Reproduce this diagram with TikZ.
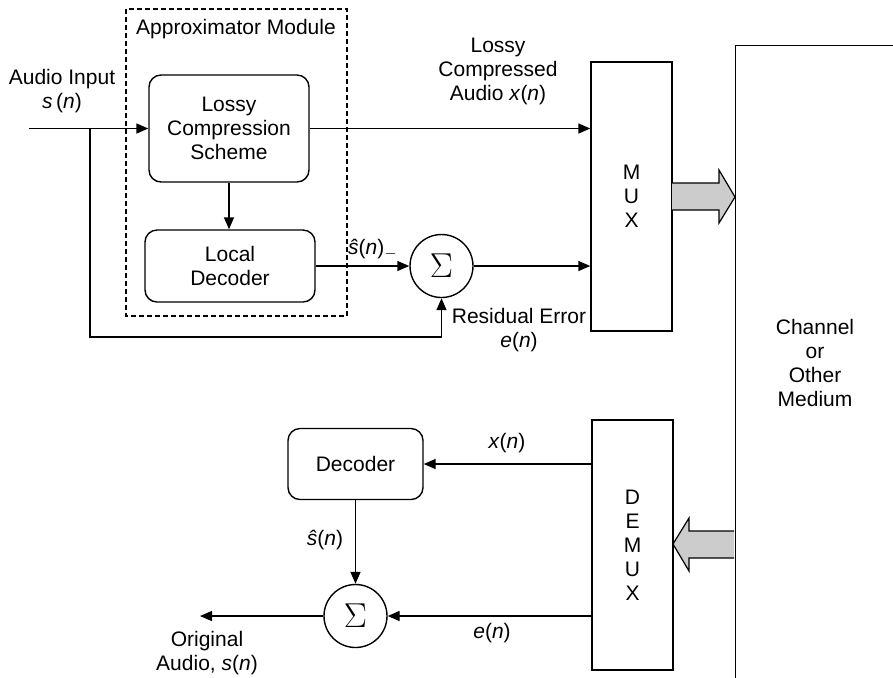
\documentclass[tikz,border=0pt]{standalone}
\usepackage{fontspec}
\setmainfont{Liberation Sans}
\usetikzlibrary{arrows.meta,positioning,calc}

\begin{document}
\begin{tikzpicture}[x=0.5pt,y=-0.5pt,>={Triangle[length=6pt,width=5pt]},line width=0.7pt,
  every node/.style={font=\fontsize{10.5}{12}\selectfont,align=center},
  box/.style={draw,rounded corners=6pt,inner sep=0pt},
  mux/.style={draw,minimum width=40.5pt,inner sep=0pt},
  sum/.style={draw,circle,minimum size=31.5pt,inner sep=0pt,font=\fontsize{18}{18}\selectfont},
  fat/.style={draw,line width=0.6pt,fill=gray!40,line join=miter}]
\useasboundingbox (0,0) rectangle (893,677);
% coder side
\node[box,minimum width=80pt,minimum height=53.5pt] (lcs) at (229,128.5) {Lossy\\Compression\\Scheme};
\node[box,minimum width=85pt,minimum height=36pt] (ldec) at (230,266) {Local\\Decoder};
\node[sum] (sum1) at (441.5,266) {$\Sigma$};
\node[mux,minimum height=134.5pt] (mux) at (631.5,196.5) {M\\U\\X};
\draw[dashed,dash pattern=on 2.5pt off 1.5pt,line width=0.6pt] (126,9) rectangle (347,316);
\node (amod) at (236,29) {Approximator Module};
\coordinate (in) at (29,128.5);
\coordinate (tap) at (90,128.5);
\coordinate (loop) at (90,337);
\node (ain) at (62,91) {Audio Input\\\textit{s}\,(\textit{n})};
\node (xlab) at (498,71) {Lossy\\Compressed\\Audio \textit{x}(\textit{n})};
\node (shat1) at (373,249) {\textit{ŝ}(\textit{n})$_-$};
\node (elab1) at (519,330) {Residual Error\\\textit{e}(\textit{n})};
\draw[->] (in) -- (lcs.west);
\draw[->] (lcs.south) -- (lcs.south |- ldec.north);
\draw[->] (lcs.east) -- (lcs.east -| mux.west);
\draw[->] (ldec) -- (sum1);
\draw[->] (sum1) -- (sum1 -| mux.west);
\draw[->] (tap) -- (loop) -| (sum1.south);
% channel
\begin{scope}
\clip (0,0) rectangle (893,677);
\node[draw,anchor=north west,minimum width=150pt,minimum height=330pt,inner sep=0pt] (chan) at (735,45) {};
\end{scope}
\node (chtxt) at (815,363) {Channel\\or\\Other\\Medium};
\draw[fat] (672,183) -- (719,183) -- (719,170) -- (735,197) -- (719,223) -- (719,210) -- (672,210);
\draw[fat] (734,531) -- (689,531) -- (689,518) -- (673,544) -- (689,571) -- (689,558) -- (734,558);
% decoder side
\node[mux,minimum height=125pt] (demux) at (632.5,545) {D\\E\\M\\U\\X};
\node[box,minimum width=67.5pt,minimum height=35.5pt] (dec) at (355.5,464) {Decoder};
\node[sum] (sum2) at (355.5,616) {$\Sigma$};
\coordinate (out) at (200,616);
\node (xlab2) at (507,443) {\textit{x}(\textit{n})};
\node (shat2) at (325,540) {\textit{ŝ}(\textit{n})};
\node (elab2) at (492,633) {\textit{e}(\textit{n})};
\node (orig) at (207,653) {Original\\Audio, \textit{s}(\textit{n})};
\draw[->] (demux.west |- dec) -- (dec);
\draw[->] (dec) -- (sum2);
\draw[->] (demux.west |- sum2) -- (sum2);
\draw[->] (sum2) -- (out);
\end{tikzpicture}
\end{document}
